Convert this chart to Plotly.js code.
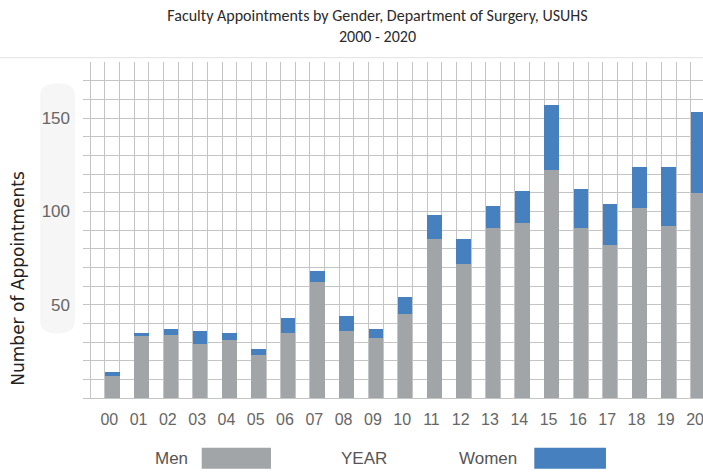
<!DOCTYPE html>
<html>
<head>
<meta charset="utf-8">
<script src="https://cdn.plot.ly/plotly-3.0.1.min.js"></script>
<style>
html,body{margin:0;padding:0;background:#fff;}
#chart{width:703px;height:473px;}
</style>
</head>
<body>
<div id="chart"></div>
<script>
// Data
var years = ['00','01','02','03','04','05','06','07','08','09','10','11','12','13','14','15','16','17','18','19','20'];
var men   = [12, 33, 34, 29, 31, 23, 35, 62, 36, 32, 45, 85, 72, 91, 94, 122, 91, 82, 102, 92, 110];
var women = [ 2,  2,  3,  7,  4,  3,  8,  6,  8,  5,  9, 13, 13, 12, 17,  35, 21, 22,  22, 32, 43];

var xs = years.map(function(_, i){ return i; });

var gray = '#a2a5a8';
var blue = '#4680bf';
var grid = '#c4c4c4';
var lblFont = 'Liberation Sans, Arial, sans-serif';

var traces = [
  {type:'bar', name:'Men', x:xs, y:men, marker:{color:gray}, hoverinfo:'y'},
  {type:'bar', name:'Women', x:xs, y:women, marker:{color:blue}, hoverinfo:'y'}
];

var layout = {
  width:703, height:473,
  margin:{l:83, r:0, t:62, b:75},
  paper_bgcolor:'#ffffff', plot_bgcolor:'#ffffff',
  barmode:'stack', bargap:0.5,
  showlegend:false,
  title:{
    text:'Faculty Appointments by Gender, Department of Surgery, USUHS<br>2000 - 2020',
    font:{family:'Carlito, Lato, sans-serif', size:16, color:'#2a2a2a'},
    xref:'container', x:0.537, xanchor:'center',
    yref:'container', y:0.955, yanchor:'top'
  },
  xaxis:{
    type:'linear', range:[-1.0, 20.17],
    tickvals:xs, ticktext:years,
    showgrid:false, zeroline:false, showline:false, ticks:'',
    tickfont:{family:lblFont, size:16, color:'#666666'},
    ticklabelstandoff:10,
    ticklabelshift:-3,
    ticklabeloverflow:'allow',
    minor:{showgrid:true, tick0:0.25, dtick:0.5, gridcolor:grid, gridwidth:1, ticks:''},
    fixedrange:true
  },
  yaxis:{
    range:[0, 180],
    tickvals:[50,100,150],
    showgrid:true, gridcolor:grid, gridwidth:1,
    zeroline:true, zerolinecolor:grid, zerolinewidth:1,
    showline:false, ticks:'',
    tickfont:{family:'Liberation Sans, Arial, sans-serif', size:17, color:'#666666'},
    ticklabelstandoff:12,
    minor:{showgrid:true, dtick:10, gridcolor:grid, gridwidth:1, ticks:''},
    fixedrange:true
  },
  shapes:[
    // faint label panel behind y tick labels
    {type:'path', xref:'paper', yref:'paper', layer:'below',
     path:'M -0.069 0.90 Q -0.069 0.937 -0.041 0.937 Q -0.013 0.937 -0.013 0.90 L -0.013 0.23 Q -0.013 0.192 -0.041 0.192 Q -0.069 0.192 -0.069 0.23 Z',
     fillcolor:'#f6f6f6', line:{width:0}},
    // faint top border line
    {type:'line', xref:'paper', yref:'paper', x0:-0.134, x1:1, y0:1.0128, y1:1.0128,
     line:{color:'#e2e2e2', width:1}},
    // legend swatches
    {type:'rect', xref:'paper', yref:'paper', x0:0.1915, x1:0.3032, y0:-0.1478, y1:-0.2103,
     fillcolor:gray, line:{width:0}},
    {type:'rect', xref:'paper', yref:'paper', x0:0.7279, x1:0.8435, y0:-0.1478, y1:-0.2103,
     fillcolor:blue, line:{width:0}}
  ],
  annotations:[
    {text:'Number of Appointments', xref:'paper', yref:'paper', x:-0.104, y:0.3566,
     textangle:-90, showarrow:false, xanchor:'center', yanchor:'middle',
     font:{family:'DejaVu Sans, Verdana, sans-serif', size:17, color:'#222222'}},
    {text:'Men', xref:'paper', yref:'paper', x:(171.7-83)/620, y:-0.1805, xanchor:'center', yanchor:'middle',
     showarrow:false, font:{family:lblFont, size:17, color:'#555555'}},
    {text:'YEAR', xref:'paper', yref:'paper', x:(364-83)/620, y:-0.1805, xanchor:'center', yanchor:'middle',
     showarrow:false, font:{family:lblFont, size:17, color:'#555555'}},
    {text:'Women', xref:'paper', yref:'paper', x:(487.5-83)/620, y:-0.1805, xanchor:'center', yanchor:'middle',
     showarrow:false, font:{family:lblFont, size:17, color:'#555555'}}
  ]
};

Plotly.newPlot('chart', traces, layout, {displayModeBar:false, staticPlot:true});
</script>
</body>
</html>
